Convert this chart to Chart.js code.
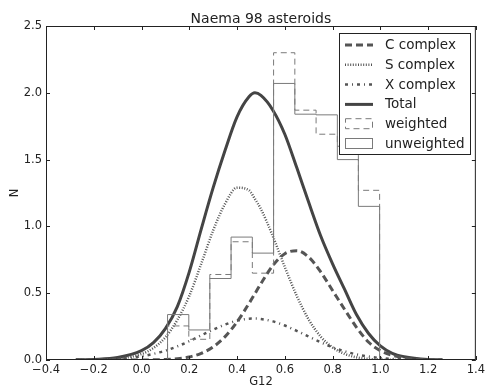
<!DOCTYPE html>
<html><head><meta charset="utf-8">
<script src="https://cdn.jsdelivr.net/npm/chart.js@4.4.0/dist/chart.umd.min.js"></script>
<style>html,body{margin:0;padding:0;background:#fff;} canvas{display:block;}</style>
</head><body>
<canvas id="c" width="488" height="391"></canvas>
<script>
// ---- data ----
const curveX   = [-0.275, -0.2, -0.1, 0, 0.05, 0.1, 0.15, 0.2, 0.25, 0.3, 0.35, 0.4, 0.45, 0.475, 0.5, 0.55, 0.6, 0.65, 0.7, 0.75, 0.8, 0.85, 0.9, 0.95, 1.0, 1.05, 1.1, 1.2, 1.26];
const cComplex = [0, 0, 0, 0.0004, 0.0014, 0.004, 0.010, 0.023, 0.050, 0.098, 0.175, 0.285, 0.423, 0.497, 0.572, 0.707, 0.796, 0.818, 0.77, 0.66, 0.52, 0.38, 0.245, 0.135, 0.07, 0.035, 0.015, 0.002, 0.0005];
const sComplex = [0.0003, 0.002, 0.01, 0.045, 0.09, 0.17, 0.30, 0.48, 0.72, 0.97, 1.17, 1.29, 1.27, 1.205, 1.13, 0.926, 0.696, 0.48, 0.303, 0.176, 0.094, 0.046, 0.020, 0.008, 0.003, 0.001, 0.0003, 0, 0];
const xComplex = [0.0008, 0.0024, 0.009, 0.028, 0.046, 0.070, 0.102, 0.141, 0.184, 0.227, 0.265, 0.294, 0.309, 0.31, 0.307, 0.289, 0.258, 0.218, 0.175, 0.133, 0.095, 0.065, 0.042, 0.026, 0.015, 0.008, 0.004, 0.0015, 0.0004];
const total    = [0.001, 0.004, 0.018, 0.07, 0.13, 0.235, 0.40, 0.66, 0.98, 1.29, 1.57, 1.82, 1.97, 2.0, 1.98, 1.87, 1.69, 1.44, 1.18, 0.93, 0.72, 0.53, 0.34, 0.20, 0.105, 0.05, 0.025, 0.004, 0.001];

const binEdges   = [0.109, 0.198, 0.286, 0.375, 0.464, 0.553, 0.642, 0.731, 0.820, 0.908, 0.997];
const weighted   = [0.255, 0.155, 0.64, 0.885, 0.65, 2.30, 1.87, 1.69, 1.60, 1.27];
const unweighted = [0.34, 0.225, 0.61, 0.92, 0.80, 2.07, 1.84, 1.835, 1.50, 1.15];

const xTickMin = -0.4, xTickMax = 1.4, xTickStep = 0.2;
const yTickMin = 0, yTickMax = 2.5, yTickStep = 0.5;

const titleText = 'Naema 98 asteroids';
const xLabel = 'G12';
const yLabel = 'N';
// ----------------------------------------------

const FONT = 'DejaVu Sans';
function pts(xs, ys) { return xs.map((x, i) => ({ x: x, y: ys[i] })); }
function histPts(edges, h) {
  const p = [{ x: edges[0], y: 0 }];
  h.forEach((v, i) => p.push({ x: edges[i], y: v }));
  p.push({ x: edges[edges.length - 1], y: 0 });
  return p;
}
function fmt(v) {
  const a = Math.abs(v) < 1e-9 ? 0 : v;
  const s = Math.abs(a).toFixed(1);
  return a < 0 ? '\u2212' + s : s;
}

const curveBase = { pointRadius: 0, fill: false, cubicInterpolationMode: 'monotone', borderCapStyle: 'butt' };

const datasets = [
  { label: 'weighted', data: histPts(binEdges, weighted), stepped: 'before', borderColor: '#7a7a7a', borderWidth: 1, borderDash: [6, 4], pointRadius: 0, fill: false, legendKind: 'rectDash' },
  { label: 'unweighted', data: histPts(binEdges, unweighted), stepped: 'before', borderColor: '#7a7a7a', borderWidth: 1, pointRadius: 0, fill: false, legendKind: 'rect' },
  Object.assign({ label: 'C complex', data: pts(curveX, cComplex), borderColor: '#555', borderWidth: 3, borderDash: [7, 4], legendKind: 'line' }, curveBase),
  Object.assign({ label: 'S complex', data: pts(curveX, sComplex), borderColor: '#555', borderWidth: 2.5, borderDash: [1, 1.6], legendKind: 'line' }, curveBase),
  Object.assign({ label: 'X complex', data: pts(curveX, xComplex), borderColor: '#555', borderWidth: 2.5, borderDash: [3, 4, 1, 4], legendKind: 'line' }, curveBase),
  Object.assign({ label: 'Total', data: pts(curveX, total), borderColor: '#444', borderWidth: 3, legendKind: 'line' }, curveBase)
];
const legendOrder = ['C complex', 'S complex', 'X complex', 'Total', 'weighted', 'unweighted'];

const decor = {
  id: 'decor',
  afterDraw(chart) {
    const ctx = chart.ctx, a = chart.chartArea;
    const xs = chart.scales.x, ys = chart.scales.y;
    ctx.save();
    ctx.strokeStyle = '#222';
    ctx.lineWidth = 1;
    ctx.setLineDash([]);
    ctx.strokeRect(a.left + 0.5, a.top + 0.5, a.right - a.left - 1, a.bottom - a.top - 1);
    ctx.beginPath();
    xs.ticks.forEach(t => {
      const px = Math.round(xs.getPixelForValue(t.value)) + 0.5;
      ctx.moveTo(px, a.bottom); ctx.lineTo(px, a.bottom - 4);
      ctx.moveTo(px, a.top); ctx.lineTo(px, a.top + 4);
    });
    ys.ticks.forEach(t => {
      const py = Math.round(ys.getPixelForValue(t.value)) + 0.5;
      ctx.moveTo(a.left, py); ctx.lineTo(a.left + 4, py);
      ctx.moveTo(a.right, py); ctx.lineTo(a.right - 4, py);
    });
    ctx.stroke();

    const bx = 339.5, by = 33.5, bw = 131, bh = 121;
    ctx.fillStyle = '#fff';
    ctx.fillRect(bx, by, bw, bh);
    ctx.strokeStyle = '#222';
    ctx.lineWidth = 1;
    ctx.strokeRect(bx, by, bw, bh);
    const rowY0 = 45, rowStep = 19.8;
    legendOrder.forEach((lab, i) => {
      const ds = chart.data.datasets.find(d => d.label === lab);
      const y = rowY0 + i * rowStep;
      ctx.save();
      ctx.strokeStyle = ds.borderColor;
      ctx.lineWidth = ds.borderWidth;
      ctx.setLineDash(ds.borderDash || []);
      ctx.lineCap = 'butt';
      if (ds.legendKind === 'line') {
        ctx.beginPath(); ctx.moveTo(345, y); ctx.lineTo(373, y); ctx.stroke();
      } else {
        ctx.strokeRect(345.5, y - 5.5, 27, 10);
      }
      ctx.restore();
      ctx.fillStyle = '#222';
      ctx.font = '13.5px "' + FONT + '"';
      ctx.textAlign = 'left';
      ctx.textBaseline = 'middle';
      ctx.fillText(lab, 385, y + 0.5);
    });

    ctx.fillStyle = '#222';
    ctx.textAlign = 'center';
    ctx.textBaseline = 'alphabetic';
    ctx.font = '14px "' + FONT + '"';
    ctx.fillText(titleText, (a.left + a.right) / 2, 22.5);
    ctx.font = '11.5px "' + FONT + '"';
    ctx.textBaseline = 'middle';
    ctx.fillText(xLabel, (a.left + a.right) / 2, 382);
    ctx.save();
    ctx.translate(15, (a.top + a.bottom) / 2);
    ctx.rotate(-Math.PI / 2);
    ctx.fillText(yLabel, 0, 0);
    ctx.restore();
    ctx.restore();
  }
};

new Chart(document.getElementById('c'), {
  type: 'line',
  data: { datasets: datasets },
  options: {
    responsive: false,
    animation: false,
    devicePixelRatio: 1,
    layout: { padding: { left: 0, right: 12, top: 26, bottom: 0 } },
    plugins: { legend: { display: false }, tooltip: { enabled: false }, title: { display: false } },
    scales: {
      x: {
        type: 'linear', min: xTickMin, max: xTickMax,
        ticks: { stepSize: xTickStep, callback: fmt, color: '#222', padding: 3, maxRotation: 0, autoSkip: false, font: { family: FONT, size: 11.5 } },
        grid: { display: false, drawTicks: false },
        border: { display: false },
        afterFit: s => { s.height = 31; }
      },
      y: {
        type: 'linear', min: yTickMin, max: yTickMax,
        ticks: { stepSize: yTickStep, callback: fmt, color: '#222', padding: 4, font: { family: FONT, size: 11.5 } },
        grid: { display: false, drawTicks: false },
        border: { display: false },
        afterFit: s => { s.width = 46; }
      }
    }
  },
  plugins: [decor]
});
</script>
</body></html>
